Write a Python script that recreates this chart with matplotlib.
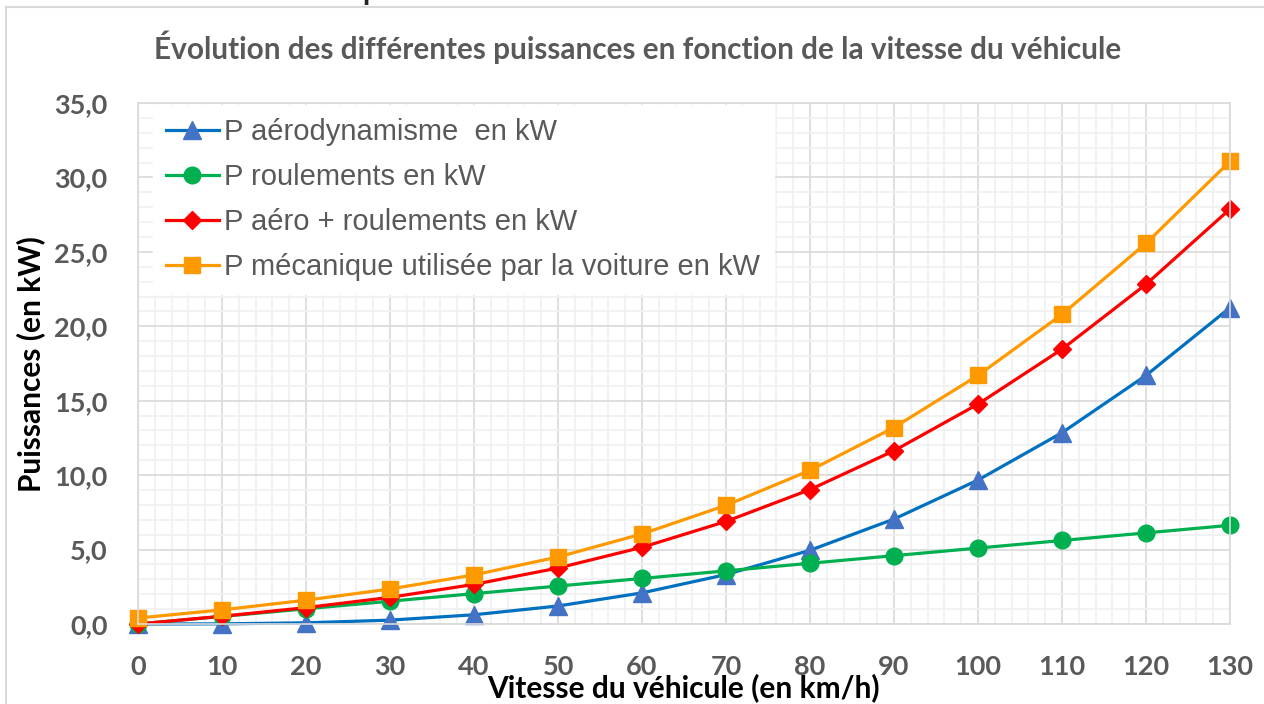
import matplotlib
matplotlib.use("Agg")
import matplotlib.pyplot as plt
from matplotlib.ticker import MultipleLocator, FuncFormatter
from matplotlib.lines import Line2D

vitesse = [0, 10, 20, 30, 40, 50, 60, 70, 80, 90, 100, 110, 120, 130]
p_aero = [0.0, 0.01, 0.08, 0.26, 0.62, 1.21, 2.09, 3.32, 4.95, 7.05, 9.67, 12.85, 16.70, 21.25]
p_roul = [0.0, 0.51, 1.02, 1.53, 2.04, 2.55, 3.06, 3.57, 4.08, 4.59, 5.10, 5.61, 6.12, 6.63]
p_somme = [0.0, 0.52, 1.10, 1.79, 2.66, 3.76, 5.15, 6.89, 9.03, 11.64, 14.77, 18.46, 22.82, 27.88]
p_meca = [0.40, 0.95, 1.60, 2.35, 3.30, 4.50, 6.05, 7.97, 10.32, 13.20, 16.70, 20.80, 25.57, 31.08]

labels = ["P aérodynamisme  en kW", "P roulements en kW",
          "P aéro + roulements en kW", "P mécanique utilisée par la voiture en kW"]
title = "Évolution des différentes puissances en fonction de la vitesse du véhicule"
xlabel = "Vitesse du véhicule (en km/h)"
ylabel = "Puissances (en kW)"

W, H = 1264, 704
fig = plt.figure(figsize=(W / 100, H / 100), dpi=100)
ax = fig.add_axes([138 / W, 1 - 624 / H, (1230 - 138) / W, (624 - 103) / H])

grey = "#595959"
styles = [
    dict(color="#0070C0", marker="^", mfc="#4472C4", mec="#4472C4", ms=13),
    dict(color="#00B050", marker="o", mfc="#00B050", mec="#00B050", ms=12),
    dict(color="#FF0000", marker="D", mfc="#FF0000", mec="#FF0000", ms=9),
    dict(color="#FF9900", marker="s", mfc="#FF9900", mec="#FF9900", ms=12),
]
for ys, lab, st in zip([p_aero, p_roul, p_somme, p_meca], labels, styles):
    ax.plot(vitesse, ys, lw=2.3, label=lab, clip_on=False, **st)

ax.set_xlim(0, 130)
ax.set_ylim(0, 35)
ax.xaxis.set_major_locator(MultipleLocator(10))
ax.xaxis.set_minor_locator(MultipleLocator(2))
ax.yaxis.set_major_locator(MultipleLocator(5))
ax.yaxis.set_minor_locator(MultipleLocator(1))
ax.yaxis.set_major_formatter(FuncFormatter(lambda v, p: f"{v:.1f}".replace(".", ",")))
ax.grid(which="major", color="#D9D9D9", lw=1.2)
ax.grid(which="minor", color="#F0F0F0", lw=1.2)
ax.set_axisbelow(True)
for s in ax.spines.values():
    s.set_color("#D9D9D9")
    s.set_linewidth(1.2)
ax.tick_params(which="both", length=0)
ax.tick_params(axis="y", pad=22)
ax.tick_params(axis="x", pad=22)
for t in ax.get_xticklabels() + ax.get_yticklabels():
    t.set_fontfamily("Lato")
    t.set_fontweight("bold")
    t.set_fontsize(19.5)
    t.set_color(grey)

fig.text(638 / W, 1 - 47 / H, title, ha="center", va="center", fontsize=21.4,
         fontfamily="Lato", fontweight="bold", color=grey)
fig.text(683 / W, 1 - 688 / H, xlabel, ha="center", va="center", fontsize=21.5,
         fontfamily="Lato", fontweight="bold", color="black")
fig.text(31 / W, 1 - 364 / H, ylabel, ha="center", va="center", rotation=90,
         fontsize=21.5, fontfamily="Lato", fontweight="bold", color="black")
fig.text(370 / W, 1.0, "p", ha="center", va="baseline", fontsize=21,
         fontfamily="Lato", fontweight="bold", color="#222222")

leg = ax.legend(loc="upper left", bbox_to_anchor=(15 / 1092, 0.996), borderaxespad=0,
                frameon=True, fancybox=False, facecolor="white", edgecolor="white",
                framealpha=1, prop={"family": "Liberation Sans", "size": 21},
                handlelength=1.8, handletextpad=0.2, labelspacing=0.58,
                borderpad=0.45)
for t in leg.get_texts():
    t.set_color(grey)

# outer chart border
fig.add_artist(Line2D([6 / W, 6 / W], [0, 1 - 7 / H], transform=fig.transFigure,
                      color="#D9D9D9", lw=1.5))
fig.add_artist(Line2D([6 / W, 1], [1 - 7 / H, 1 - 7 / H], transform=fig.transFigure,
                      color="#D9D9D9", lw=1.5))

fig.savefig("out.png", dpi=100)
